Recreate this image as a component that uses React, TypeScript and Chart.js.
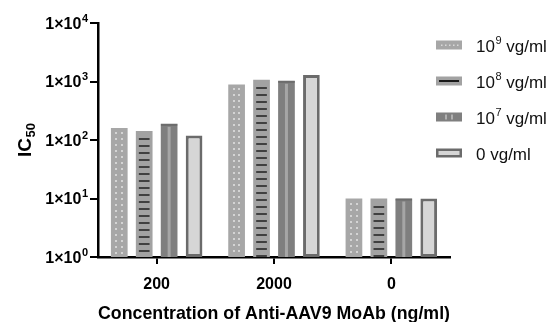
import React, { useEffect, useRef } from 'react';
import { Chart, registerables } from 'chart.js';

Chart.register(...registerables);

const categories = ['200', '2000', '0'];
const seriesLabels = ['10^{9} vg/ml', '10^{8} vg/ml', '10^{7} vg/ml', '0 vg/ml'];
const values1e9 = [161, 889, 10];
const values1e8 = [143, 1070, 10];
const values1e7 = [189, 1028, 10];
const values0 = [119, 1290, 10];
const yTickValues = [1, 10, 100, 1000, 10000];
const yTickLabels = ['1×10^{0}', '1×10^{1}', '1×10^{2}', '1×10^{3}', '1×10^{4}'];
const xTitle = 'Concentration of Anti-AAV9 MoAb (ng/ml)';
const yTitle = 'IC_{50}';

const FONT = "'Liberation Sans', Arial, sans-serif";
const fills = ['#a7a7a7', '#a2a2a2', '#7f7f7f', '#d6d6d6'];

type Seg = { text: string; mode: 'n' | 'sup' | 'sub' };

function parseRich(s: string): Seg[] {
  const parts = s.split(/(\^\{[^}]*\}|_\{[^}]*\})/).filter((p) => p.length > 0);
  return parts.map((p) => {
    if (p.startsWith('^{')) return { text: p.slice(2, -1), mode: 'sup' as const };
    if (p.startsWith('_{')) return { text: p.slice(2, -1), mode: 'sub' as const };
    return { text: p, mode: 'n' as const };
  });
}

function drawRich(
  ctx: CanvasRenderingContext2D,
  s: string,
  x: number,
  baseline: number,
  size: number,
  weight: string,
  align: 'left' | 'right' | 'center',
  color: string
) {
  const segs = parseRich(s);
  const small = Math.round(size * 0.66);
  const fontFor = (m: string) => `${weight} ${m === 'n' ? size : small}px ${FONT}`;
  const widths = segs.map((sg) => {
    ctx.font = fontFor(sg.mode);
    return ctx.measureText(sg.text).width + (sg.mode === 'n' ? 0 : 0.5);
  });
  const total = widths.reduce((a, b) => a + b, 0);
  let cx = align === 'left' ? x : align === 'right' ? x - total : x - total / 2;
  ctx.save();
  ctx.fillStyle = color;
  ctx.textAlign = 'left';
  ctx.textBaseline = 'alphabetic';
  segs.forEach((sg, i) => {
    ctx.font = fontFor(sg.mode);
    const dy = sg.mode === 'sup' ? -size * 0.42 : sg.mode === 'sub' ? size * 0.22 : 0;
    ctx.fillText(sg.text, cx + (sg.mode === 'n' ? 0 : 0.5), baseline + dy);
    cx += widths[i];
  });
  ctx.restore();
}

const decorPlugin = {
  id: 'decor',
  afterDatasetsDraw(chart: any) {
    const ctx = chart.ctx;
    chart.data.datasets.forEach((_ds: any, di: number) => {
      const meta = chart.getDatasetMeta(di);
      meta.data.forEach((bar: any) => {
        const { x, y, base, width } = bar.getProps(['x', 'y', 'base', 'width'], true);
        const l = x - width / 2;
        const r = x + width / 2;
        const t = Math.min(y, base);
        const b = Math.max(y, base);
        ctx.save();
        ctx.beginPath();
        ctx.rect(l, t, r - l, b - t);
        ctx.clip();
        if (di === 0) {
          ctx.fillStyle = '#d4d4d4';
          for (let yy = t + 4; yy < b - 2; yy += 6) {
            ctx.fillRect(Math.round(l + width * 0.33 - 1), Math.round(yy), 2, 2);
            ctx.fillRect(Math.round(l + width * 0.67 - 1), Math.round(yy), 2, 2);
          }
        } else if (di === 1) {
          ctx.fillStyle = '#404040';
          for (let yy = t + 7; yy < b - 2; yy += 7) {
            ctx.fillRect(l + 3, Math.round(yy), width - 6, 2);
          }
        } else if (di === 2) {
          ctx.fillStyle = '#a6a6a6';
          ctx.fillRect(x - 1.5, t + 3, 3, b - t - 3);
          ctx.fillStyle = '#6c6c6c';
          ctx.fillRect(l, t, width, 2);
        }
        ctx.restore();
      });
    });
  },
};

const textPlugin = {
  id: 'richText',
  afterDraw(chart: any) {
    const ctx = chart.ctx;
    const ys = chart.scales.y;
    yTickValues.forEach((v, i) => {
      const py = ys.getPixelForValue(v);
      drawRich(ctx, yTickLabels[i], 88, py + 5.5, 16, 'bold', 'right', '#000');
    });
    ctx.save();
    ctx.translate(31, (chart.chartArea.top + chart.chartArea.bottom) / 2);
    ctx.rotate(-Math.PI / 2);
    drawRich(ctx, yTitle, 0, 0, 19, 'bold', 'center', '#000');
    ctx.restore();
    const bx = 436;
    const bw = 26;
    const bh = 9;
    const centers = [45, 81, 117, 153];
    chart.data.datasets.forEach((ds: any, i: number) => {
      const cy = centers[i];
      const top = cy - bh / 2;
      ctx.save();
      if (i === 3) {
        ctx.fillStyle = '#6b6b6b';
        ctx.fillRect(bx, top, bw, bh);
        ctx.fillStyle = '#d6d6d6';
        ctx.fillRect(bx + 2.5, top + 2.5, bw - 5, bh - 5);
      } else {
        ctx.fillStyle = fills[i];
        ctx.fillRect(bx, top, bw, bh);
        if (i === 0) {
          ctx.fillStyle = '#d9d9d9';
          for (let k = 0; k < 5; k++) ctx.fillRect(bx + 5 + k * 4, cy - 0.5, 1.5, 1.5);
        } else if (i === 1) {
          ctx.fillStyle = '#1a1a1a';
          ctx.fillRect(bx + 3, cy - 1, bw - 6, 2);
        } else if (i === 2) {
          ctx.fillStyle = '#b0b0b0';
          ctx.fillRect(bx + 9, cy - 2.5, 2, 5);
          ctx.fillRect(bx + 15, cy - 2.5, 2, 5);
        }
      }
      ctx.restore();
      drawRich(ctx, ds.label, 476, cy + 6.5, 17, 'normal', 'left', '#111');
    });
  },
};

export default function App() {
  const ref = useRef<HTMLCanvasElement | null>(null);
  useEffect(() => {
    document.body.style.margin = '0';
    const canvas = ref.current;
    if (!canvas) return;
    const seriesValues = [values1e9, values1e8, values1e7, values0];
    const chart = new Chart(canvas, {
      type: 'bar',
      data: {
        labels: categories,
        datasets: seriesLabels.map((label, i) => ({
          label,
          data: seriesValues[i],
          backgroundColor: fills[i],
          borderColor: i === 3 ? '#6b6b6b' : fills[i],
          borderWidth: i === 3 ? 3 : 0,
          borderSkipped: false,
          categoryPercentage: 0.85,
          barPercentage: 0.67,
        })),
      },
      options: {
        animation: false,
        responsive: false,
        devicePixelRatio: 1,
        layout: { padding: { top: 23, right: 104, bottom: 0, left: 0 } },
        plugins: {
          legend: { display: false },
          tooltip: { enabled: false },
        },
        scales: {
          x: {
            type: 'category',
            grid: {
              display: true,
              drawOnChartArea: false,
              drawTicks: true,
              tickLength: 7,
              color: '#000',
              lineWidth: 2,
              offset: false,
            },
            border: { display: true, color: '#000', width: 2.5 },
            ticks: {
              color: '#000',
              font: { family: FONT, size: 16, weight: 'bold' },
              padding: 11,
            },
            title: {
              display: true,
              text: xTitle,
              color: '#000',
              font: { family: FONT, size: 18.5, weight: 'bold' },
              padding: { top: 0, bottom: -3 },
            },
            afterFit: (s: any) => {
              s.height = 65;
            },
          },
          y: {
            type: 'logarithmic',
            min: 1,
            max: 10000,
            grid: {
              display: true,
              drawOnChartArea: false,
              drawTicks: true,
              tickLength: 8,
              color: '#000',
              lineWidth: 2,
            },
            border: { display: true, color: '#000', width: 2.5 },
            afterBuildTicks: (s: any) => {
              s.ticks = yTickValues.map((v) => ({ value: v }));
            },
            ticks: { display: false },
            title: { display: false },
            afterFit: (s: any) => {
              s.width = 98;
            },
          },
        },
      },
      plugins: [decorPlugin, textPlugin],
    } as any);
    return () => chart.destroy();
  }, []);
  return (
    <div style={{ width: 554, height: 322, position: 'relative', background: '#fff' }}>
      <canvas ref={ref} width={554} height={322} />
    </div>
  );
}
